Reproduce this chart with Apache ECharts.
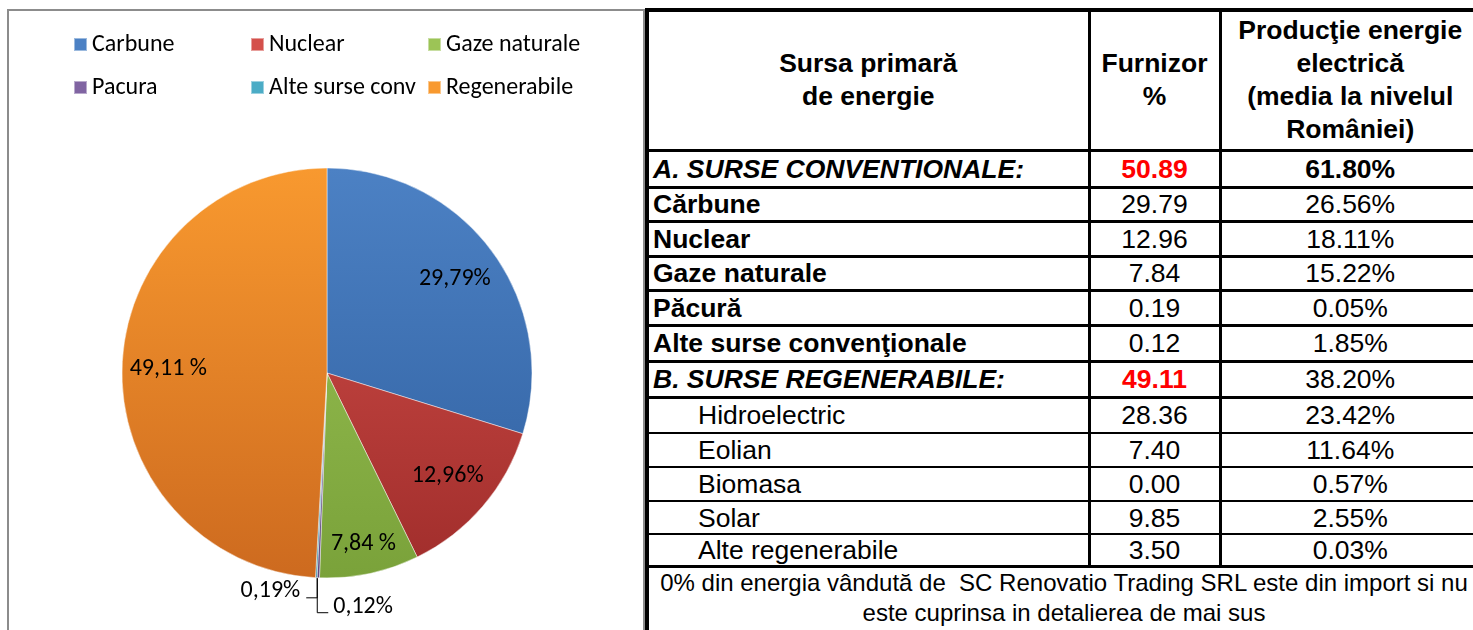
<!DOCTYPE html>
<html>
<head>
<meta charset="utf-8">
<script src="https://cdn.jsdelivr.net/npm/echarts@6/dist/echarts.min.js"></script>
<style>
  html, body { margin: 0; padding: 0; width: 1473px; height: 630px; overflow: hidden; background: #fff; }
  #frame { position: absolute; left: 7px; top: 9px; width: 634px; height: 640px; border: 2px solid #8c8c8c; border-bottom: none; }
  #pie { position: absolute; left: 0; top: 0; width: 644px; height: 630px; }
  #tbl {
    position: absolute; left: 645px; top: 8px; width: 834px;
    border-collapse: collapse; table-layout: fixed;
    font-family: "Liberation Sans", Arial, sans-serif; font-size: 26.5px; color: #000;
    border: 4px solid #000;
  }
  #tbl td { border: 3px solid #000; padding: 0 4px; white-space: nowrap; line-height: 30px; }
  #tbl tr.sub td { border-top-width: 2px; border-bottom-width: 2px; }
  #tbl th { border: 3px solid #000; font-weight: bold; line-height: 33px; padding: 0; }
  #tbl .num { text-align: center; }
  #tbl .red { color: #ff0000; font-weight: bold; }
  #tbl .b { font-weight: bold; }
  #tbl .bi { font-weight: bold; font-style: italic; }
  #tbl .ind { padding-left: 49px; }
  #tbl .foot { text-align: center; vertical-align: top; white-space: pre; padding: 0; font-size: 24px; line-height: 30px; }
</style>
</head>
<body>
<div id="frame"></div>
<div id="pie"></div>
<table id="tbl"></table>
<script>
// pie: supplier mix
const pieNames = ['Carbune', 'Nuclear', 'Gaze naturale', 'Pacura', 'Alte surse conv', 'Regenerabile'];
const pieValues = [29.79, 12.96, 7.84, 0.19, 0.12, 49.11];
const pieLabels = ['29,79%', '12,96%', '7,84 %', '0,19%', '0,12%', '49,11 %'];

// table
const headers = ['Sursa primară\nde energie', 'Furnizor\n%', 'Producţie energie\nelectrică\n(media la nivelul\nRomâniei)'];
const sourceNames = ['A. SURSE CONVENTIONALE:', 'Cărbune', 'Nuclear', 'Gaze naturale', 'Păcură', 'Alte surse convenţionale',
  'B. SURSE REGENERABILE:', 'Hidroelectric', 'Eolian', 'Biomasa', 'Solar', 'Alte regenerabile'];
const rowKinds = ['group', 'main', 'main', 'main', 'main', 'main', 'group', 'sub', 'sub', 'sub', 'sub', 'sub'];
const supplierShare = ['50.89', '29.79', '12.96', '7.84', '0.19', '0.12', '49.11', '28.36', '7.40', '0.00', '9.85', '3.50'];
const nationalShare = ['61.80%', '26.56%', '18.11%', '15.22%', '0.05%', '1.85%', '38.20%', '23.42%', '11.64%', '0.57%', '2.55%', '0.03%'];
const footNote = '0% din energia vândută de  SC Renovatio Trading SRL este din import si nu\neste cuprinsa in detalierea de mai sus';

const rowHeights = [37, 34, 35, 34, 35, 36, 36, 36, 34, 34, 33, 31];

function buildTable() {
  const t = document.getElementById('tbl');
  let html = '<colgroup><col style="width:442px"><col style="width:131px"><col style="width:261px"></colgroup>';
  html += '<tr style="height:140px">' + headers.map(h => `<th>${h.replace(/\n/g, '<br>')}</th>`).join('') + '</tr>';
  sourceNames.forEach((name, i) => {
    const kind = rowKinds[i];
    const c1 = kind === 'group' ? 'bi' : kind === 'main' ? 'b' : 'ind';
    const c2 = kind === 'group' ? 'num red' : 'num';
    const c3 = i === 0 ? 'num b' : 'num';
    html += `<tr class="${kind}" style="height:${rowHeights[i]}px"><td class="${c1}">${name}</td>` +
      `<td class="${c2}">${supplierShare[i]}</td><td class="${c3}">${nationalShare[i]}</td></tr>`;
  });
  html += `<tr style="height:72px"><td class="foot" colspan="3">${footNote}</td></tr>`;
  t.innerHTML = html;
}
buildTable();

const CX = 327, CY = 373, R = 205;
const colorPairs = [
  ['#4c81c4', '#2f5f9f'],
  ['#d4504b', '#a02d2b'],
  ['#9cc456', '#7aa23a'],
  ['#8064a2', '#5f4a80'],
  ['#4bacc6', '#2f8aa4'],
  ['#f8992f', '#cd6a1f'],
];

const total = pieValues.reduce((a, b) => a + b, 0);
const midAngle = [];
let acc = 0;
pieValues.forEach(v => { midAngle.push((acc + v / 2) / total * Math.PI * 2); acc += v; });

const chart = echarts.init(document.getElementById('pie'));
const labelFont = 'Carlito, Calibri, Lato, sans-serif';

chart.setOption({
  animation: false,
  legend: {
    left: 73,
    top: 28,
    width: 570,
    padding: 0,
    itemWidth: 13,
    itemHeight: 13,
    itemGap: 10,
    icon: 'rect',
    data: pieNames,
    formatter: name => `{n|${name}}`,
    textStyle: {
      rich: { n: { width: 148, height: 33, fontSize: 24, lineHeight: 33, fontFamily: labelFont, color: '#000' } },
    },
  },
  series: [{
    type: 'pie',
    center: [CX, CY],
    radius: R,
    startAngle: 90,
    clockwise: true,
    avoidLabelOverlap: false,
    label: {
      position: 'inside',
      fontSize: 24,
      fontFamily: labelFont,
      color: '#000',
      formatter: p => pieLabels[p.dataIndex],
    },
    labelLine: { show: false, lineStyle: { color: '#000', width: 1 } },
    itemStyle: { borderColor: 'rgba(255,255,255,0.45)', borderWidth: 1 },
    emphasis: { disabled: true },
    labelLayout(p) {
      const i = p.dataIndex;
      const th = midAngle[i];
      const sx = Math.sin(th), sy = -Math.cos(th);
      const ex = CX + R * sx, ey = CY + R * sy;
      if (i === 3) {
        return { x: ex - 18, y: ey + 13, align: 'right', verticalAlign: 'middle',
          labelLinePoints: [[ex - 1, ey], [ex - 1, ey + 20], [ex - 12, ey + 20]] };
      }
      if (i === 4) {
        return { x: ex + 17, y: ey + 29, align: 'left', verticalAlign: 'middle',
          labelLinePoints: [[ex + 1, ey], [ex + 1, ey + 35], [ex + 12, ey + 35]] };
      }
      const k = i === 2 ? 0.34 : 0.26;
      return { dx: k * R * sx, dy: k * R * sy };
    },
    data: pieNames.map((name, i) => ({
      name,
      value: pieValues[i],
      itemStyle: {
        color: {
          type: 'linear', x: 0, y: CY - R, x2: 0, y2: CY + R, global: true,
          colorStops: [{ offset: 0, color: colorPairs[i][0] }, { offset: 1, color: colorPairs[i][1] }],
        },
      },
      label: i === 3 || i === 4 ? { position: 'outside' } : undefined,
      labelLine: i === 3 || i === 4 ? { show: true, length: 10, length2: 10 } : undefined,
    })),
  }],
});
</script>
</body>
</html>
